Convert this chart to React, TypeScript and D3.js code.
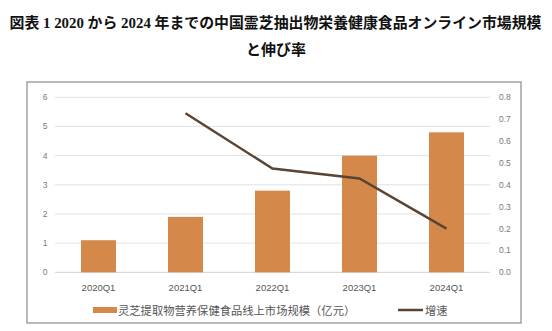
import React from "react";
import * as d3 from "d3";

const categories = ["2020Q1", "2021Q1", "2022Q1", "2023Q1", "2024Q1"];
const marketSize = [1.1, 1.9, 2.8, 4.0, 4.8];
const growth: (number | null)[] = [null, 0.727, 0.474, 0.429, 0.2];
const leftTicks = [0, 1, 2, 3, 4, 5, 6];
const rightTicks = [0, 0.1, 0.2, 0.3, 0.4, 0.5, 0.6, 0.7, 0.8];
const titleLine1 = "図表 1 2020 から 2024 年までの中国霊芝抽出物栄養健康食品オンライン市場規模";
const titleLine2 = "と伸び率";
const legendBar = "灵芝提取物营养保健食品线上市场规模（亿元）";
const legendLine = "增速";

export default function App() {
  const W = 552, H = 331;
  const yL = d3.scaleLinear().domain([0, 6]).range([272.3, 97.3]);
  const yR = d3.scaleLinear().domain([0, 0.8]).range([272.3, 97.3]);
  const band = d3.scaleBand().domain(categories).range([55, 490]);
  const cx = (c: string) => (band(c) as number) + band.bandwidth() / 2;
  const bw = 35;
  const lineGen = d3
    .line<{ c: string; v: number | null }>()
    .defined((d) => d.v != null)
    .x((d) => cx(d.c))
    .y((d) => yR(d.v as number));
  const lineData = categories.map((c, i) => ({ c, v: growth[i] }));
  const tickFont = "'Liberation Sans', Arial, sans-serif";
  const cjk = "'Noto Sans CJK SC', sans-serif";
  return (
    <svg width={W} height={H} style={{ position: "absolute", left: 0, top: 0, background: "#fff" }}>
      <rect x={0} y={0} width={W} height={H} fill="#fff" />
      <text x={275.5} y={28} textAnchor="middle" fontFamily="'Liberation Serif', 'Noto Sans CJK JP', serif" fontWeight="bold" fontSize={15} fill="#111" textLength={532} lengthAdjust="spacingAndGlyphs">
        {titleLine1}
      </text>
      <text x={276} y={55} textAnchor="middle" fontFamily="'Noto Sans CJK JP', sans-serif" fontWeight="bold" fontSize={15} fill="#111">
        {titleLine2}
      </text>
      <rect x={27} y={82} width={494} height={241} fill="none" stroke="#8a8a8a" strokeWidth={1.2} />
      {leftTicks.map((t) => (
        <line key={"g" + t} x1={55} x2={490} y1={yL(t)} y2={yL(t)} stroke={t === 0 ? "#d0d0d0" : "#e2e2e2"} strokeWidth={1} />
      ))}
      {leftTicks.map((t) => (
        <text key={"l" + t} x={45} y={yL(t) + 3} textAnchor="middle" fontFamily={tickFont} fontSize={8.5} fill="#7a7a7a">
          {t}
        </text>
      ))}
      {rightTicks.map((t) => (
        <text key={"r" + t} x={499} y={yR(t) + 3} textAnchor="start" fontFamily={tickFont} fontSize={8.5} fill="#7a7a7a">
          {t.toFixed(1)}
        </text>
      ))}
      {categories.map((c, i) => (
        <rect key={c} x={cx(c) - bw / 2} y={yL(marketSize[i])} width={bw} height={yL(0) - yL(marketSize[i])} fill="#d4894a" />
      ))}
      <path d={lineGen(lineData) || ""} fill="none" stroke="#5a4434" strokeWidth={2.5} />
      {categories.map((c) => (
        <text key={"x" + c} x={cx(c)} y={291} textAnchor="middle" fontFamily={tickFont} fontSize={9.5} fill="#555">
          {c}
        </text>
      ))}
      <rect x={93} y={307} width={24} height={6} fill="#d4894a" />
      <text x={118} y={314.5} fontFamily={cjk} fontSize={11.3} fill="#555">
        {legendBar}
      </text>
      <line x1={398} x2={423} y1={310} y2={310} stroke="#5a4434" strokeWidth={2.5} />
      <text x={425} y={314.5} fontFamily={cjk} fontSize={11.3} fill="#555">
        {legendLine}
      </text>
    </svg>
  );
}
